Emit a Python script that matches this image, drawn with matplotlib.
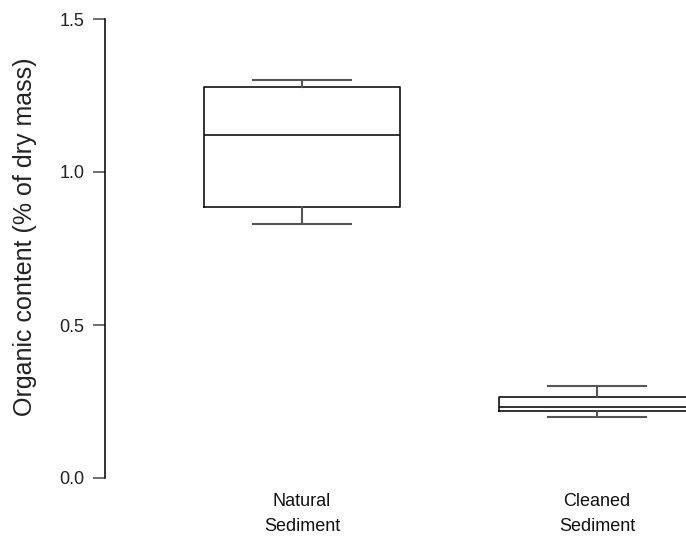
import matplotlib
matplotlib.use("Agg")
import matplotlib.pyplot as plt

categories = ["Natural\nSediment", "Cleaned\nSediment"]
whislo = [0.831, 0.200]
q1 = [0.885, 0.219]
med = [1.121, 0.231]
q3 = [1.278, 0.265]
whishi = [1.300, 0.302]

plt.rcParams['font.family'] = ['Liberation Sans', 'DejaVu Sans']

fig = plt.figure(figsize=(6.86, 5.45), dpi=100)
W, H = 686, 545
ax = fig.add_axes([105 / W, 1 - 478 / H, (686 - 105) / W, (478 - 19) / H])

stats = []
for i, lab in enumerate(categories):
    stats.append(dict(label=lab, whislo=whislo[i], q1=q1[i], med=med[i],
                      q3=q3[i], whishi=whishi[i], fliers=[]))

ax.bxp(stats, positions=[1, 2], widths=0.664, capwidths=0.331,
       showfliers=False,
       boxprops=dict(color='#111111', linewidth=1.2),
       medianprops=dict(color='#111111', linewidth=1.2),
       whiskerprops=dict(color='#555555', linewidth=1.5),
       capprops=dict(color='#555555', linewidth=1.5))

ax.set_xlim(0.332, 2.302)
ax.set_ylim(0, 1.5)
ax.set_yticks([0.0, 0.5, 1.0, 1.5])
ax.set_yticklabels(["0.0", "0.5", "1.0", "1.5"])
for s in ['top', 'right', 'bottom']:
    ax.spines[s].set_visible(False)
ax.spines['left'].set_color('#111111')
ax.spines['left'].set_linewidth(1.2)
ax.tick_params(axis='y', length=8.6, width=1.2, color='#555555', pad=6,
               labelsize=13, labelcolor='#222222')
ax.tick_params(axis='x', length=0, pad=11, labelsize=13, labelcolor='#111111')
for t in ax.get_xticklabels():
    t.set_linespacing(1.6)

ax.set_ylabel("Organic content (% of dry mass)", fontsize=18, color='#222222')
ax.yaxis.set_label_coords(25 / W, 1 - 237 / H, transform=fig.transFigure)
ax.yaxis.label.set_verticalalignment('center')
ax.yaxis.label.set_rotation_mode('default')

fig.savefig("out.png", dpi=100)
